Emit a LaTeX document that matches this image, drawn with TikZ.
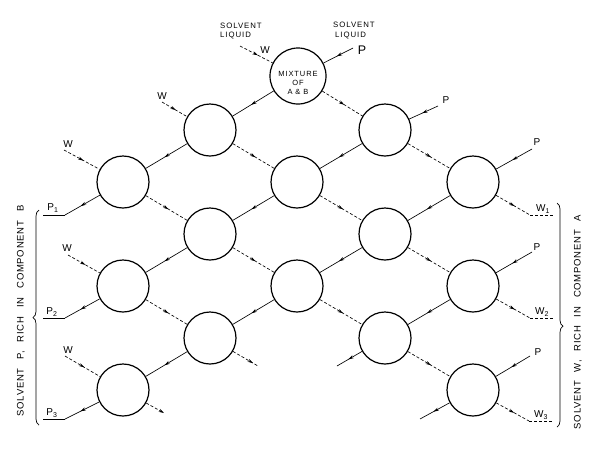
\documentclass[tikz,border=0pt]{standalone}
\usepackage{fontspec}
\setmainfont{Liberation Sans}
\newfontfamily\lett[LetterSpace=12]{Liberation Sans}
\newfontfamily\sidelett[LetterSpace=8,WordSpace=2.6]{Liberation Sans}
\usetikzlibrary{arrows.meta,decorations.markings,decorations.pathreplacing}
\begin{document}
\begin{tikzpicture}[x=1pt,y=-1pt,
  stage/.style={circle,draw,line width=1.2pt,minimum size=52pt,inner sep=0pt},
  pline/.style={line width=0.65pt},
  wline/.style={line width=0.65pt,dash pattern=on 3pt off 2pt},
  arr/.style={postaction={decorate},decoration={markings,mark=at position #1 with {\arrow{Stealth[length=5.5pt,width=3.2pt]}}}},
  arr/.default=0.55,
  lab/.style={font=\lett\fontsize{7.8}{8}\selectfont,inner sep=0pt},
  io/.style={font=\fontsize{10}{10}\selectfont,inner sep=0pt},
  side/.style={font=\sidelett\fontsize{9.5}{10}\selectfont,inner sep=0pt,rotate=90},
  brc/.style={line width=0.7pt,decorate,decoration={brace,amplitude=6pt,aspect=#1}}
]
\useasboundingbox (0,0) rectangle (596,448);

% stages
\node[stage,minimum size=56pt] (m) at (298,76) {};
\node[font=\lett\fontsize{7.5}{8.7}\selectfont,align=center,inner sep=0pt] (mtxt) at (298,83) {MIXTURE\\OF\\A \& B};
\node[stage] (a1) at (210,130) {};
\node[stage] (a2) at (385,130) {};
\node[stage] (b1) at (123,182) {};
\node[stage] (b2) at (297,182) {};
\node[stage] (b3) at (473,182) {};
\node[stage] (c1) at (210,234) {};
\node[stage] (c2) at (385,234) {};
\node[stage] (d1) at (123,286) {};
\node[stage] (d2) at (297,286) {};
\node[stage] (d3) at (473,286) {};
\node[stage] (e1) at (210,338) {};
\node[stage] (e2) at (385,338) {};
\node[stage] (f1) at (123,390) {};
\node[stage] (f2) at (473,390) {};

% top labels
\node[lab,anchor=west] (sl1) at (220,25.5) {SOLVENT};
\node[lab,anchor=west] (ll1) at (220,36) {LIQUID};
\node[lab,anchor=west] (sl2) at (333,25) {SOLVENT};
\node[lab,anchor=west] (ll2) at (335,36) {LIQUID};

% inputs
\coordinate (wm) at (240,46);
\coordinate (pm) at (353,48);
\node[io] (wml) at (265,50) {W};
\node[io,font=\fontsize{12.5}{12}\selectfont] (pml) at (362,50) {P};
\draw[wline,arr] (wm) -- (m);
\draw[pline,arr] (pm) -- (m);

\coordinate (wa1) at (162,102); \node[io] (wa1l) at (162,96) {W};
\draw[wline,arr] (wa1) -- (a1);
\coordinate (pa2) at (438,106); \node[io] (pa2l) at (446,100) {P};
\draw[pline,arr] (pa2) -- (a2);
\coordinate (wb1) at (64,150); \node[io] (wb1l) at (68,144) {W};
\draw[wline,arr] (wb1) -- (b1);
\coordinate (pb3) at (532,149); \node[io] (pb3l) at (537,142) {P};
\draw[pline,arr] (pb3) -- (b3);
\coordinate (wd1) at (68,255); \node[io] (wd1l) at (67,248) {W};
\draw[wline,arr] (wd1) -- (d1);
\coordinate (pd3) at (532,252); \node[io] (pd3l) at (537,247) {P};
\draw[pline,arr] (pd3) -- (d3);
\coordinate (wf1) at (65,356); \node[io] (wf1l) at (68,350) {W};
\draw[wline,arr] (wf1) -- (f1);
\coordinate (pf2) at (530,356); \node[io] (pf2l) at (538,352) {P};
\draw[pline,arr] (pf2) -- (f2);

% solvent P connectors (down-left)
\draw[pline,arr] (m) -- (a1);
\draw[pline,arr] (a1) -- (b1);
\draw[pline,arr] (a2) -- (b2);
\draw[pline,arr] (b2) -- (c1);
\draw[pline,arr] (b3) -- (c2);
\draw[pline,arr] (c1) -- (d1);
\draw[pline,arr] (c2) -- (d2);
\draw[pline,arr] (d2) -- (e1);
\draw[pline,arr] (d3) -- (e2);
\draw[pline,arr] (e1) -- (f1);
\coordinate (e2o) at (337,366);
\draw[pline,arr] (e2) -- (e2o);
\coordinate (f2o) at (420,419);
\draw[pline,arr] (f2) -- (f2o);

% solvent W connectors (down-right)
\draw[wline,arr] (m) -- (a2);
\draw[wline,arr] (a1) -- (b2);
\draw[wline,arr] (a2) -- (b3);
\draw[wline,arr] (b1) -- (c1);
\draw[wline,arr] (b2) -- (c2);
\draw[wline,arr] (c1) -- (d2);
\draw[wline,arr] (c2) -- (d3);
\draw[wline,arr] (d1) -- (e1);
\draw[wline,arr] (d2) -- (e2);
\draw[wline,arr] (e2) -- (f2);
\coordinate (e1o) at (258,366);
\draw[wline,arr=0.8] (e1) -- (e1o);
\coordinate (f1o) at (164,413);
\draw[wline,-{Stealth[length=5.5pt,width=3.2pt]}] (f1) -- (f1o);

% left outputs P1 P2 P3
\coordinate (p1c) at (65,215); \coordinate (p1e) at (43,215);
\draw[pline,arr] (b1) -- (p1c); \draw[pline] (p1c) -- (p1e);
\node[io] (p1l) at (53,208) {P\textsubscript{1}};
\coordinate (p2c) at (65,318); \coordinate (p2e) at (43,318);
\draw[pline,arr] (d1) -- (p2c); \draw[pline] (p2c) -- (p2e);
\node[io] (p2l) at (52,312) {P\textsubscript{2}};
\coordinate (p3c) at (65,419); \coordinate (p3e) at (43,419);
\draw[pline,arr] (f1) -- (p3c); \draw[pline] (p3c) -- (p3e);
\node[io] (p3l) at (52,413) {P\textsubscript{3}};

% right outputs W1 W2 W3
\coordinate (w1c) at (530,215); \coordinate (w1e) at (553,215);
\draw[wline,arr] (b3) -- (w1c); \draw[wline] (w1c) -- (w1e);
\node[io] (w1l) at (543,209) {W\textsubscript{1}};
\coordinate (w2c) at (530,318); \coordinate (w2e) at (554,318);
\draw[wline,arr] (d3) -- (w2c); \draw[wline] (w2c) -- (w2e);
\node[io] (w2l) at (542,312) {W\textsubscript{2}};
\coordinate (w3c) at (529,421); \coordinate (w3e) at (552,421);
\draw[wline,arr] (f2) -- (w3c); \draw[wline] (w3c) -- (w3e);
\node[io] (w3l) at (541,415) {W\textsubscript{3}};

% braces
\coordinate (lb1) at (39,425); \coordinate (lb2) at (39,210);
\draw[brc=0.5] (lb1) -- (lb2);
\coordinate (rb1) at (557,203); \coordinate (rb2) at (557,427);
\draw[brc=0.55] (rb1) -- (rb2);

% side texts
\node[side] (lt) at (21,311) {SOLVENT P, RICH IN COMPONENT B};
\node[side] (rt) at (578,322) {SOLVENT W, RICH IN COMPONENT A};
\end{tikzpicture}
\end{document}
